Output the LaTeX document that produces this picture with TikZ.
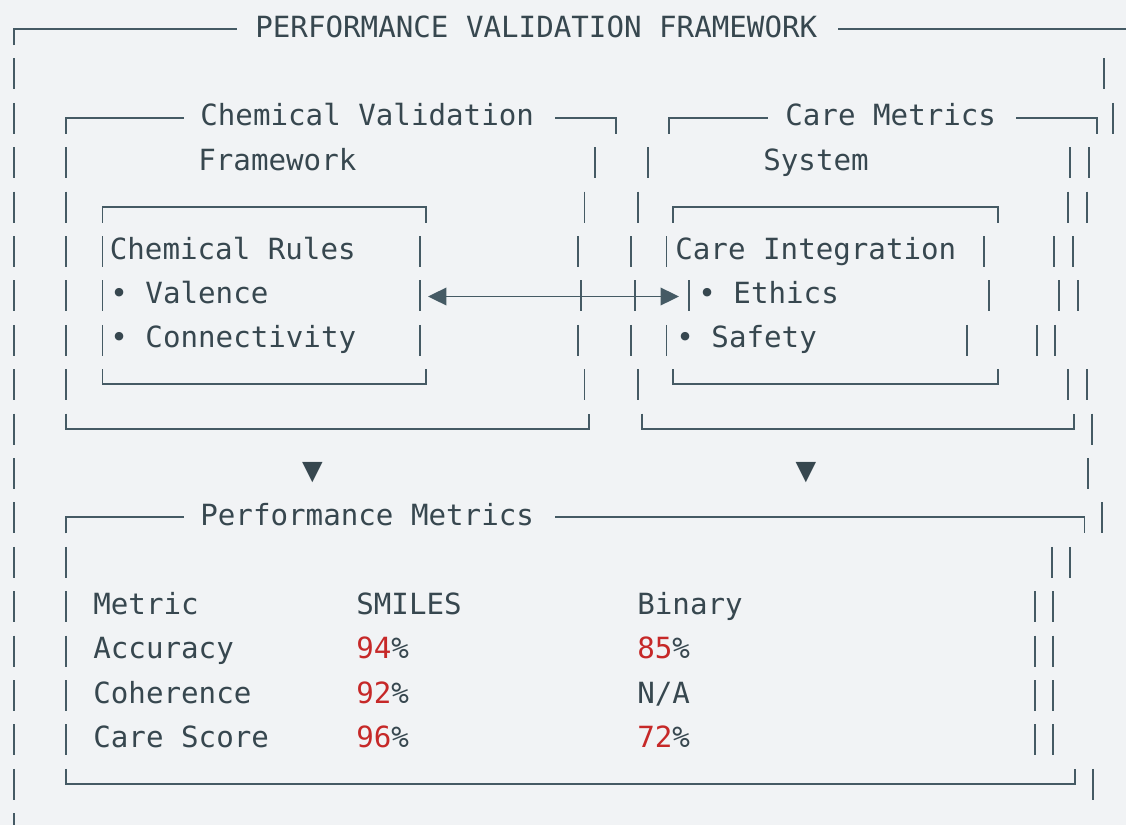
\documentclass[tikz,border=0pt]{standalone}
\usepackage{fontspec}
\setmonofont{DejaVu Sans Mono}
\usepackage{xcolor}
\usetikzlibrary{arrows.meta}
\definecolor{bgpage}{HTML}{F1F3F5}
\definecolor{ink}{HTML}{37474F}
\definecolor{rulecol}{HTML}{455A64}
\definecolor{valred}{HTML}{C62828}

\begin{document}
\begin{tikzpicture}[x=0.02cm, y=-0.02cm,
  every node/.style={font=\fontsize{16.6}{20}\selectfont\ttfamily, text=ink, inner sep=0pt, anchor=base west},
  rul/.style={draw=rulecol, line width=1.05pt},
  tri/.style={anchor=center, font=\fontsize{19.5}{22}\selectfont\ttfamily}]
\def\pitch{44.4}
\fill[bgpage] (0,0) rectangle (1126,825);
\useasboundingbox (0,0) rectangle (1126,825);

% the ragged vertical bars, one list per text row
\foreach \rw/\xs in {%
  1/{13.6,1104},%
  2/{13.6,1113},%
  3/{13.6,66.4,595,648,1070,1089},%
  4/{13.6,66.4,584.5,638,1068,1087},%
  5/{13.6,66.4,102.5,419.6,578,631,666.5,984,1054,1073},%
  6/{13.6,66.4,102.5,419.6,581,635,689,989,1059,1078},%
  7/{13.6,66.4,102.5,419.6,578,631,666.5,967,1037,1055},%
  8/{13.6,66.4,584.5,638,1068,1087},%
  9/{13.6,1092},%
  10/{13.6,1088},%
  11/{13.6,1102},%
  12/{13.6,66.4,1052,1070},%
  13/{13.6,66.4,1035,1053},%
  14/{13.6,66.4,1035,1053},%
  15/{13.6,66.4,1035,1053},%
  16/{13.6,66.4,1035,1053},%
  17/{13.6,1093},%
  18/{13.6}%
} {
  \pgfmathsetmacro{\cy}{27+\rw*\pitch}
  \foreach \xx in \xs
    \draw[rul] (\xx,\cy-13) -- (\xx,\cy+18);
}

% frames
\draw[rul] (13.6,45) |- (237,29);
\draw[rul] (838,29) -- (1126,29);
\draw[rul] (66.4,133.8) |- (184,117.8);
\draw[rul] (555,117.8) -| (616,133.8);
\draw[rul] (669,133.8) |- (768,117.8);
\draw[rul] (1016,117.8) -| (1097,133.8);
\draw[rul] (102.5,222.6) |- (426,206.6) -- ++(0,16);
\draw[rul] (673,222.6) |- (998,206.6) -- ++(0,16);
\draw[rul] (102.5,369.2) |- (426,384.2) -- ++(0,-15);
\draw[rul] (673,369.2) |- (998,384.2) -- ++(0,-15);
\draw[rul] (66.4,413.6) |- (589,428.6) -- ++(0,-15);
\draw[rul] (642,413.6) |- (1074,428.6) -- ++(0,-15);
\draw[rul] (66.4,533.4) |- (184,517.4);
\draw[rul] (555,517.4) -| (1084.5,533.4);
\draw[rul] (66.4,768.8) |- (1075,783.8) -- ++(0,-15);

\node (title) at (255,37) {PERFORMANCE VALIDATION FRAMEWORK};
\node (chemT) at (200,125.8) {Chemical Validation};
\node (chemT2) at (198,170.2) {Framework};
\node (careT) at (785,125.8) {Care Metrics};
\node (careT2) at (763,170.2) {System};

\node (rulesH) at (109.5,259) {Chemical Rules};
\node (rulesA) at (110,303.4) {• Valence};
\node (rulesB) at (110,347.8) {• Connectivity};
\node (careH) at (675,259) {Care Integration};
\node (careA) at (698,303.4) {• Ethics};
\node (careB) at (676,347.8) {• Safety};

\coordinate (rulesE) at (428,296.5);
\coordinate (careW) at (679,296.5);
\draw[draw=rulecol, fill=ink, line width=1.1pt, {Triangle[length=10.5pt,width=10pt]}-{Triangle[length=10.5pt,width=10pt]}] (rulesE) -- (careW);

\node[tri] (downL) at (312.5,473) {▼};
\node[tri] (downR) at (806,473) {▼};

\node (perfT) at (200,525.4) {Performance Metrics};
\node (hdMetric) at (93,614.2) {Metric};
\node (hdSmiles) at (356,614.2) {SMILES};
\node (hdBinary) at (637,614.2) {Binary};
\foreach \rw/\lbl/\sm/\bn in {%
  14/Accuracy/{\textcolor{valred}{94}\%}/{\textcolor{valred}{85}\%},%
  15/Coherence/{\textcolor{valred}{92}\%}/{N/A},%
  16/Care Score/{\textcolor{valred}{96}\%}/{\textcolor{valred}{72}\%}%
} {
  \pgfmathsetmacro{\by}{37+\rw*\pitch}
  \node (lbl\rw) at (93,\by) {\lbl};
  \node (sm\rw) at (356,\by) {\sm};
  \node (bn\rw) at (637,\by) {\bn};
}
\end{tikzpicture}
\end{document}
